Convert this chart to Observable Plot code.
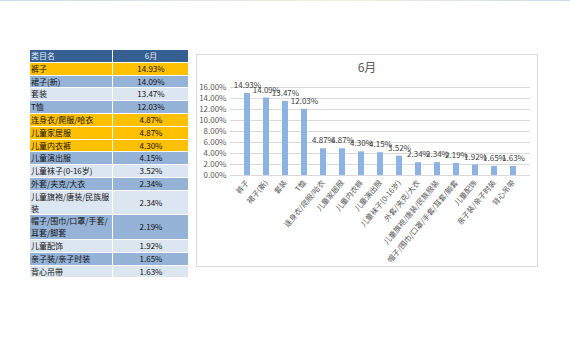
<!DOCTYPE html>
<html>
<head>
<meta charset="utf-8">
<script src="https://cdn.jsdelivr.net/npm/d3@7"></script>
<script src="https://cdn.jsdelivr.net/npm/@observablehq/plot@0.6"></script>
<style>
  html, body { margin: 0; padding: 0; background: #fff; }
  body { width: 570px; height: 360px; position: relative; overflow: hidden;
         font-family: "Noto Sans CJK SC", "Noto Sans", sans-serif; }
  #topline { position: absolute; left: 0; top: 0; width: 570px; height: 1px;
             background: linear-gradient(to right, #c9dbee, #f3efdc 60%, #c9dbee); }
  #tbl { position: absolute; left: 30px; top: 50px; border-collapse: collapse; font-size: 8px; }
  #tbl td { line-height: 11.8px; padding: 0 0 0 1px; border-bottom: 1px solid #fff; color: #111;
            word-break: break-all; vertical-align: top; }
  #tbl td.c1 { width: 81px; border-right: 1px solid #fff; }
  #tbl td.c2 { width: 74px; text-align: center; vertical-align: middle; }
  #tbl tr.head td { background: #366092; color: #e8eef6; }
  #tbl tr.hl td { background: #ffc000; }
  #tbl tr.mid td { background: #95b3d7; }
  #tbl tr.light td { background: #dce6f1; }
  #box { position: absolute; left: 196px; top: 54px; width: 342px; height: 213px;
         box-sizing: border-box; border: 1px solid #d9d9d9; }
  #title { position: absolute; left: 196px; top: 58px; width: 342px; text-align: center;
           font-size: 12px; color: #595959; }
  #chart { position: absolute; left: 196px; top: 54px; }
</style>
</head>
<body>
<div id="topline"></div>
<table id="tbl"></table>
<div id="box"></div>
<div id="title">6月</div>
<div id="chart"></div>
<script>
const headerLabels = ["类目名", "6月"];
const categories = ["裤子", "裙子(新)", "套装", "T恤", "连身衣/爬服/哈衣", "儿童家居服", "儿童内衣裤",
  "儿童演出服", "儿童袜子(0-16岁)", "外套/夹克/大衣", "儿童旗袍/唐装/民族服装",
  "帽子/围巾/口罩/手套/耳套/脚套", "儿童配饰", "亲子装/亲子时装", "背心吊带"];
const values = [14.93, 14.09, 13.47, 12.03, 4.87, 4.87, 4.30, 4.15, 3.52, 2.34, 2.34, 2.19, 1.92, 1.65, 1.63];
const highlighted = ["裤子", "连身衣/爬服/哈衣", "儿童家居服", "儿童内衣裤"];
const yTicks = [0, 2, 4, 6, 8, 10, 12, 14, 16];

const fmt = v => v.toFixed(2) + "%";

// table
const tbl = d3.select("#tbl");
const hr = tbl.append("tr").attr("class", "head");
hr.append("td").attr("class", "c1").text(headerLabels[0]);
hr.append("td").attr("class", "c2").text(headerLabels[1]);
categories.forEach((c, i) => {
  const cls = highlighted.includes(c) ? "hl" : (i % 2 === 1 ? "mid" : "light");
  const r = tbl.append("tr").attr("class", cls);
  r.append("td").attr("class", "c1").text(c);
  r.append("td").attr("class", "c2").text(fmt(values[i]));
});

// chart
const data = categories.map((c, i) => ({category: c, value: values[i]}));
const chart = Plot.plot({
  width: 342,
  height: 213,
  marginLeft: 34,
  marginRight: 8,
  marginTop: 33,
  marginBottom: 92,
  style: {fontFamily: "'Noto Sans CJK SC', sans-serif", fontSize: "8px", color: "#595959", background: "transparent"},
  x: {domain: categories, padding: 0.7, label: null},
  y: {domain: [0, 16], label: null},
  marks: [
    Plot.gridY(yTicks, {stroke: "#d9d9d9", strokeOpacity: 1}),
    Plot.axisY(yTicks, {tickSize: 0, tickPadding: 4, tickFormat: fmt, label: null, fill: "#595959"}),
    Plot.barY(data, {x: "category", y: "value", fill: "#8db3e2"}),
    Plot.text(data, {x: "category", y: "value", text: d => fmt(d.value), dy: -8, fill: "#404040", fontSize: 8}),
    Plot.axisX({tickSize: 0, tickPadding: 6, tickRotate: -50, label: null, fill: "#595959", fontSize: 7.5})
  ]
});
document.getElementById("chart").appendChild(chart);
</script>
</body>
</html>
